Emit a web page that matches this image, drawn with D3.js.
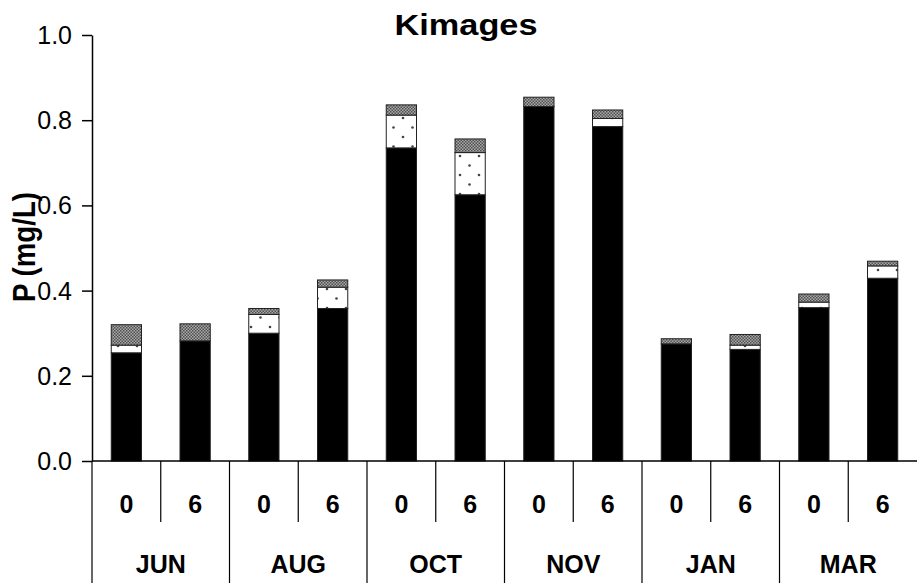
<!DOCTYPE html>
<html>
<head>
<meta charset="utf-8">
<script src="https://cdn.jsdelivr.net/npm/d3@7"></script>
<style>
  body { margin: 0; background: #fff; }
  svg { display: block; font-family: "Liberation Sans", Arial, sans-serif; }
</style>
</head>
<body>
<svg id="chart"></svg>
<script>
// data
const months = ['JUN', 'AUG', 'OCT', 'NOV', 'JAN', 'MAR'];
const days = ['0', '6'];
const blackPart  = [0.254, 0.282, 0.300, 0.358, 0.735, 0.625, 0.832, 0.785, 0.275, 0.262, 0.360, 0.429];
const dottedPart = [0.018, 0.000, 0.044, 0.050, 0.077, 0.099, 0.000, 0.019, 0.000, 0.010, 0.013, 0.029];
const grayPart   = [0.048, 0.040, 0.014, 0.017, 0.024, 0.032, 0.022, 0.020, 0.012, 0.025, 0.019, 0.011];
const yTicks = [0, 0.2, 0.4, 0.6, 0.8, 1.0];

const width = 917, height = 583;
const margin = { left: 92, right: 917, top: 35, bottom: 461 };

const svg = d3.select('#chart').attr('width', width).attr('height', height);

// fill patterns
const defs = svg.append('defs');
const hatch = defs.append('pattern').attr('id', 'hatch')
  .attr('patternUnits', 'userSpaceOnUse').attr('width', 3).attr('height', 3);
hatch.append('rect').attr('width', 3).attr('height', 3).attr('fill', '#a8a8a8');
hatch.append('rect').attr('width', 1.5).attr('height', 1.5).attr('fill', '#505050');
hatch.append('rect').attr('x', 1.5).attr('y', 1.5).attr('width', 1.5).attr('height', 1.5).attr('fill', '#505050');

const dots = defs.append('pattern').attr('id', 'dots')
  .attr('patternUnits', 'userSpaceOnUse').attr('width', 19).attr('height', 19);
dots.append('rect').attr('width', 19).attr('height', 19).attr('fill', '#fff');
dots.append('circle').attr('cx', 4).attr('cy', 4).attr('r', 1.3).attr('fill', '#444');
dots.append('circle').attr('cx', 13.5).attr('cy', 13.5).attr('r', 1.3).attr('fill', '#444');

const keys = [];
months.forEach(m => days.forEach(d => keys.push(m + '-' + d)));

const rows = keys.map((k, i) => ({ key: k, black: blackPart[i], dotted: dottedPart[i], gray: grayPart[i] }));
const series = d3.stack().keys(['black', 'dotted', 'gray'])(rows);
const fills = { black: '#000', dotted: 'url(#dots)', gray: 'url(#hatch)' };

const x = d3.scaleBand().domain(keys).range([margin.left, margin.right]).paddingInner(0.56).paddingOuter(0.28);
const xOuter = d3.scaleBand().domain(keys).range([margin.left, margin.right]);
const xMonth = d3.scaleBand().domain(months).range([margin.left, margin.right]);
const y = d3.scaleLinear().domain([0, 1]).range([margin.bottom, margin.top]);

// bars
svg.append('g').selectAll('g')
  .data(series)
  .join('g')
  .attr('fill', s => fills[s.key])
  .selectAll('rect')
  .data(s => s.filter(d => d[1] - d[0] > 0))
  .join('rect')
  .attr('x', d => x(d.data.key))
  .attr('width', x.bandwidth())
  .attr('y', d => y(d[1]))
  .attr('height', d => y(d[0]) - y(d[1]))
  .attr('stroke', '#222')
  .attr('stroke-width', 1);

// y axis
const yAxis = svg.append('g')
  .attr('transform', `translate(${margin.left},0)`)
  .call(d3.axisLeft(y).tickValues(yTicks).tickFormat(d3.format('.1f')).tickSize(10).tickSizeOuter(0));
yAxis.selectAll('path, line').attr('stroke', '#000').attr('stroke-width', 1.5);
yAxis.selectAll('text').attr('font-size', 25).attr('fill', '#000').attr('x', -20)
  .attr('dy', '0.34em').attr('font-family', '"Liberation Sans", Arial, sans-serif');

// x axis line
svg.append('line')
  .attr('x1', margin.left).attr('x2', margin.right).attr('y1', margin.bottom).attr('y2', margin.bottom)
  .attr('stroke', '#000').attr('stroke-width', 1.5);

// divider lines between day labels
svg.append('g').selectAll('line')
  .data(months)
  .join('line')
  .attr('x1', m => xMonth(m) + xMonth.bandwidth() / 2)
  .attr('x2', m => xMonth(m) + xMonth.bandwidth() / 2)
  .attr('y1', margin.bottom).attr('y2', 522)
  .attr('stroke', '#000').attr('stroke-width', 1.2);

// month boundaries
svg.append('g').selectAll('line')
  .data(months)
  .join('line')
  .attr('x1', m => xMonth(m)).attr('x2', m => xMonth(m))
  .attr('y1', margin.bottom).attr('y2', height)
  .attr('stroke', '#000').attr('stroke-width', 1.2);

// day labels
svg.append('g').selectAll('text')
  .data(keys)
  .join('text')
  .attr('x', k => xOuter(k) + xOuter.bandwidth() / 2)
  .attr('y', 513)
  .attr('text-anchor', 'middle')
  .attr('font-size', 25).attr('font-weight', 'bold')
  .text(k => k.split('-')[1]);

// month labels
svg.append('g').selectAll('text')
  .data(months)
  .join('text')
  .attr('x', m => xMonth(m) + xMonth.bandwidth() / 2)
  .attr('y', 573)
  .attr('text-anchor', 'middle')
  .attr('font-size', 25).attr('font-weight', 'bold')
  .text(m => m);

// title
svg.append('text')
  .attr('x', 466).attr('y', 35)
  .attr('text-anchor', 'middle')
  .attr('font-size', 29).attr('font-weight', 'bold')
  .attr('textLength', 143).attr('lengthAdjust', 'spacingAndGlyphs')
  .text('Kimages');

// y label
svg.append('text')
  .attr('transform', 'translate(35,247) rotate(-90)')
  .attr('text-anchor', 'middle')
  .attr('font-size', 32).attr('font-weight', 'bold')
  .attr('textLength', 110).attr('lengthAdjust', 'spacingAndGlyphs')
  .text('P (mg/L)');
</script>
</body>
</html>
